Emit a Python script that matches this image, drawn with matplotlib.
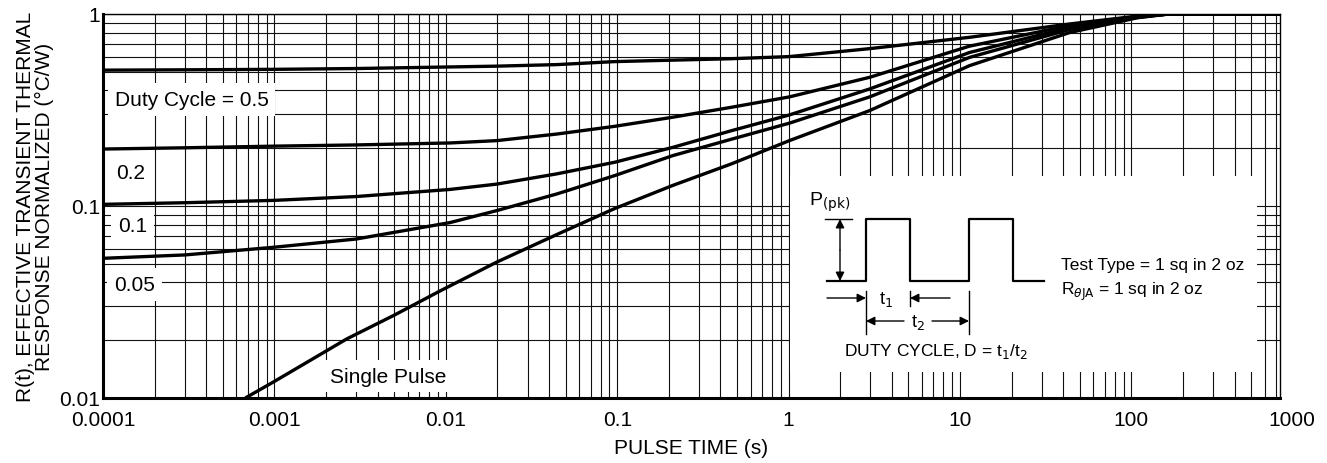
import matplotlib
matplotlib.use('Agg')
import matplotlib.pyplot as plt
from matplotlib.patches import Rectangle

plt.rcParams['font.family'] = ['Liberation Sans', 'DejaVu Sans']

# curves (pulse time s -> normalized R(t))
t_duty = [1e-4, 3e-4, 1e-3, 3e-3, 0.0106, 0.0198, 0.0444, 0.0967, 0.211, 0.466, 1.01, 2.97, 11.35, 43.5, 108, 165, 1000]
r_d50 = [0.51, 0.512, 0.515, 0.52, 0.53, 0.535, 0.545, 0.565, 0.575, 0.585, 0.60, 0.66, 0.756, 0.887, 0.975, 1.0, 1.0]
r_d20 = [0.198, 0.201, 0.205, 0.208, 0.213, 0.219, 0.237, 0.26, 0.29, 0.327, 0.37, 0.468, 0.68, 0.87, 0.97, 1.0, 1.0]
r_d10 = [0.102, 0.104, 0.107, 0.112, 0.122, 0.130, 0.147, 0.169, 0.202, 0.247, 0.298, 0.407, 0.63, 0.85, 0.965, 1.0, 1.0]
r_d05 = [0.0534, 0.0556, 0.061, 0.0673, 0.082, 0.0946, 0.1155, 0.144, 0.183, 0.223, 0.27, 0.37, 0.594, 0.83, 0.96, 1.0, 1.0]
t_single = [6.9e-4, 1e-3, 2.64e-3, 5e-3, 9.2e-3, 0.0198, 0.0444, 0.0967, 0.211, 0.466, 1.01, 2.97, 11.35, 43.5, 108, 165, 1000]
r_single = [0.0101, 0.0122, 0.0203, 0.027, 0.036, 0.051, 0.071, 0.097, 0.128, 0.166, 0.219, 0.314, 0.538, 0.80, 0.955, 1.0, 1.0]

x_ticks = [1e-4, 1e-3, 1e-2, 1e-1, 1, 10, 100, 1000]
x_ticklabels = ['0.0001', '0.001', '0.01', '0.1', '1', '10', '100', '1000']
y_ticks = [0.01, 0.1, 1]
y_ticklabels = ['0.01', '0.1', '1']

W, H = 1327, 464
px_per_decade = 171.4
left, right, top_px, bottom_px = 103, 1280, 15, 399
fig = plt.figure(figsize=(W / 100, H / 100), dpi=100)
ax = fig.add_axes([left / W, 1 - bottom_px / H, (right - left) / W, (bottom_px - top_px) / H])
ax.set_xscale('log')
ax.set_yscale('log')
# the printed grid stops short of the 1000 line
ax.set_xlim(1e-4, 1e-4 * 10 ** ((right - left) / px_per_decade))
ax.set_ylim(0.01, 1)

ax.grid(True, which='both', color='#111111', linewidth=0.8)
ax.set_axisbelow(True)
for r in (r_d50, r_d20, r_d10, r_d05):
    ax.plot(t_duty, r, color='black', linewidth=2.4, solid_joinstyle='round', zorder=3)
ax.plot(t_single, r_single, color='black', linewidth=2.4, solid_joinstyle='round', zorder=3)

ax.set_xticks(x_ticks[:-1])
ax.set_xticklabels(x_ticklabels[:-1])
ax.set_yticks(y_ticks)
ax.set_yticklabels(y_ticklabels)
ax.tick_params(which='both', length=0, labelsize=15)
ax.tick_params(axis='x', pad=9)
ax.tick_params(axis='y', pad=2)
# last label sits just past the right edge of the grid
ax.annotate(x_ticklabels[-1], xy=(1, 0), xycoords='axes fraction', xytext=(8.6, -9),
            textcoords='offset points', ha='center', va='top', fontsize=15)
for s in ('left', 'bottom'):
    ax.spines[s].set_linewidth(2.2)
for s in ('top', 'right'):
    ax.spines[s].set_linewidth(1.0)

ax.set_xlabel('PULSE TIME (s)', fontsize=15, labelpad=6)
ax.set_ylabel('R(t), EFFECTIVE TRANSIENT THERMAL\nRESPONSE NORMALIZED (°C/W)',
              fontsize=15, labelpad=4, linespacing=1.0)

box = dict(facecolor='white', edgecolor='none', pad=5)
ax.text(1.17e-4, 0.36, 'Duty Cycle = 0.5', fontsize=15, ha='left', va='center', bbox=box, zorder=2)
ax.text(1.2e-4, 0.15, '0.2', fontsize=15, ha='left', va='center', bbox=box, zorder=2)
ax.text(1.22e-4, 0.079, '0.1', fontsize=15, ha='left', va='center', bbox=box, zorder=2)
ax.text(1.16e-4, 0.039, '0.05', fontsize=15, ha='left', va='center', bbox=box, zorder=2)
ax.text(2.1e-3, 0.013, 'Single Pulse', fontsize=15, ha='left', va='center', bbox=box, zorder=2)

# schematic inset, drawn in pixel coordinates on an overlay
ov = fig.add_axes([0, 0, 1, 1])
ov.set_xlim(0, W)
ov.set_ylim(H, 0)
ov.axis('off')
ov.patch.set_alpha(0)
ov.add_patch(Rectangle((790, 177), 1257 - 790, 373 - 177, facecolor='white', edgecolor='none'))

base, top = 282, 220
wave_x = [827, 866, 866, 910, 910, 969, 969, 1013, 1013, 1044]
wave_y = [base, base, top, top, base, base, top, top, base, base]
ov.plot(wave_x, wave_y, color='black', linewidth=1.6)

fs_in = 12.5
arr = dict(arrowstyle='-|>', color='black', linewidth=1.0, mutation_scale=13, shrinkA=0, shrinkB=0)
ov.plot([825, 852], [top, top], color='black', linewidth=1.0)
ov.annotate('', xy=(840, top), xytext=(840, 251), arrowprops=arr)
ov.annotate('', xy=(840, base), xytext=(840, 251), arrowprops=arr)
ov.text(809, 214, r'P$_{\rm (pk)}$', fontsize=14, ha='left', va='bottom')

ov.plot([866, 866], [292, 335], color='black', linewidth=1.0)
ov.plot([910, 910], [292, 307], color='black', linewidth=1.0)
ov.plot([969, 969], [292, 335], color='black', linewidth=1.0)
ov.annotate('', xy=(866, 299), xytext=(827, 299), arrowprops=arr)
ov.annotate('', xy=(910, 299), xytext=(950, 299), arrowprops=arr)
ov.text(886, 300, r't$_1$', fontsize=13, ha='center', va='center')
ov.annotate('', xy=(866, 322), xytext=(904, 322), arrowprops=arr)
ov.annotate('', xy=(969, 322), xytext=(932, 322), arrowprops=arr)
ov.text(918, 323, r't$_2$', fontsize=13, ha='center', va='center')
ov.text(844, 352, r'DUTY CYCLE, D = t$_1$/t$_2$', fontsize=fs_in, ha='left', va='center')

ov.text(1061, 266, 'Test Type = 1 sq in 2 oz', fontsize=fs_in, ha='left', va='center')
ov.text(1061, 292, r'R$_{\theta\rm JA}$ = 1 sq in 2 oz', fontsize=fs_in, ha='left', va='center')

fig.savefig('out.png', dpi=100)
plt.close(fig)
